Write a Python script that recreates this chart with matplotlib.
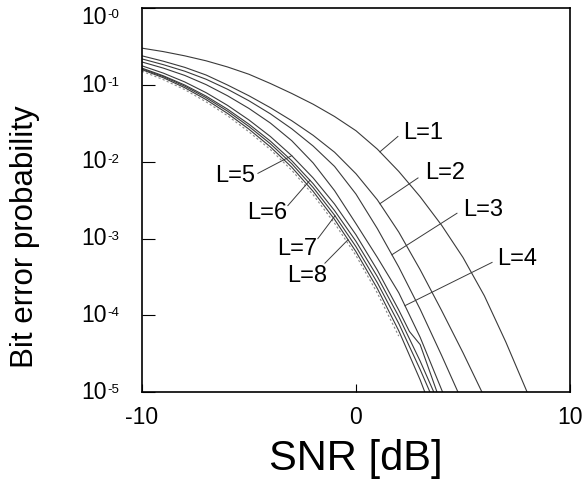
import numpy as np
import matplotlib
matplotlib.use("Agg")
import matplotlib.pyplot as plt
import matplotlib.transforms as mtransforms

plt.rcParams['font.family'] = ['Liberation Sans', 'DejaVu Sans']

# SNR [dB] and log10(bit error probability), one pair per L
snr_L1 = [-10, -9, -8, -7, -6, -5, -4, -3, -2, -1, 0, 1, 2, 3, 4, 5, 6, 7, 8]
log_L1 = [-0.52, -0.565, -0.62, -0.685, -0.765, -0.86, -0.98, -1.11, -1.25, -1.41,
          -1.595, -1.835, -2.125, -2.455, -2.825, -3.245, -3.745, -4.345, -5.0]

snr_L2 = [-10, -9, -8, -7, -6, -5, -4, -3, -2, -1, 0, 1, 2, 3, 4, 5, 5.89]
log_L2 = [-0.62, -0.69, -0.77, -0.87, -1.0, -1.14, -1.295, -1.465, -1.655, -1.875,
          -2.155, -2.495, -2.915, -3.405, -3.935, -4.485, -5.0]

snr_L3 = [-10, -9, -8, -7, -6, -5, -4, -3, -2, -1, 0, 1, 2, 3, 4, 4.77]
log_L3 = [-0.66, -0.735, -0.82, -0.925, -1.055, -1.205, -1.375, -1.57, -1.795, -2.06,
          -2.42, -2.87, -3.37, -3.92, -4.52, -5.0]

snr_L4 = [-10, -9, -8, -7, -6, -5, -4, -3, -2, -1, 0, 1, 2, 3, 4.05]
log_L4 = [-0.70, -0.78, -0.875, -0.995, -1.14, -1.305, -1.495, -1.725, -2.015, -2.375,
          -2.805, -3.245, -3.705, -4.285, -5.0]

snr_L5 = [-10, -9, -8, -7, -6, -5, -4, -3, -2, -1, 0, 1, 2, 2.5, 3.0, 3.79]
log_L5 = [-0.75, -0.845, -0.96, -1.10, -1.265, -1.455, -1.67, -1.92, -2.21, -2.55,
          -2.95, -3.41, -3.93, -4.21, -4.38, -5.0]

snr_L6 = [-10, -9, -8, -7, -6, -5, -4, -3, -2, -1, 0, 1, 2, 3, 3.64]
log_L6 = [-0.78, -0.88, -1.0, -1.145, -1.315, -1.51, -1.73, -1.985, -2.285, -2.635,
          -3.035, -3.495, -4.015, -4.595, -5.0]

snr_L7 = [-10, -9, -8, -7, -6, -5, -4, -3, -2, -1, 0, 1, 2, 3, 3.46]
log_L7 = [-0.79, -0.89, -1.015, -1.165, -1.34, -1.54, -1.765, -2.025, -2.335, -2.695,
          -3.105, -3.575, -4.105, -4.705, -5.0]

snr_L8 = [-10, -9, -8, -7, -6, -5, -4, -3, -2, -1, 0, 1, 2, 3, 3.22]
log_L8 = [-0.80, -0.905, -1.035, -1.19, -1.37, -1.575, -1.805, -2.07, -2.385, -2.75,
          -3.17, -3.65, -4.2, -4.84, -5.0]

# faint dashed trace running just under the L=5..8 bundle
snr_dash = [-10, -9, -8, -7, -6, -5, -4, -3, -2, -1, 0, 1, 2]
log_dash = [-0.82, -0.93, -1.06, -1.22, -1.40, -1.61, -1.84, -2.11, -2.43, -2.80,
            -3.22, -3.71, -4.27]

curve_names = ['L=1', 'L=2', 'L=3', 'L=4', 'L=5', 'L=6', 'L=7', 'L=8']
curve_snr = [snr_L1, snr_L2, snr_L3, snr_L4, snr_L5, snr_L6, snr_L7, snr_L8]
curve_log = [log_L1, log_L2, log_L3, log_L4, log_L5, log_L6, log_L7, log_L8]

# where each label's leader touches its curve (SNR)
leader_snr = [1.12, 1.12, 1.68, 2.29, -3.0, -2.15, -0.98, -0.37]
# leader far end and label centre (SNR, log10 BER)
leader_end = [(1.96, -1.67), (2.90, -2.21), (4.72, -2.67), (6.36, -3.31),
              (-4.58, -2.15), (-3.18, -2.57), (-1.78, -3.0), (-1.45, -3.32)]
label_pos = [(3.13, -1.63), (4.16, -2.14), (5.93, -2.63), (7.52, -3.26),
             (-5.65, -2.19), (-4.16, -2.67), (-2.76, -3.13), (-2.29, -3.49)]

y_ticks = [1, 1e-1, 1e-2, 1e-3, 1e-4, 1e-5]
y_exps = ['-0', '-1', '-2', '-3', '-4', '-5']
x_ticks = [-10, 0, 10]
x_tick_labels = ['-10', '0', '10']

fig = plt.figure(figsize=(5.84, 4.83), dpi=100)
ax = fig.add_axes([0.243, 0.188, 0.733, 0.795])

line_col = '#3a3a3a'
for snr, lg in zip(curve_snr, curve_log):
    ax.plot(snr, 10 ** np.array(lg), color=line_col, lw=0.8)
ax.plot(snr_dash, 10 ** np.array(log_dash), color='#888888', lw=0.8,
        ls=(0, (2, 2)))

# labels with leader lines
for name, snr, lg, s0, end, pos in zip(curve_names, curve_snr, curve_log,
                                        leader_snr, leader_end, label_pos):
    y0 = np.interp(s0, snr, lg)
    ax.plot([s0, end[0]], [10 ** y0, 10 ** end[1]], color=line_col, lw=0.7)
    ax.text(pos[0], 10 ** pos[1], name, fontsize=17, ha='center', va='center')

ax.set_yscale('log')
ax.set_xlim(-10, 10)
ax.set_ylim(1e-5, 1)
ax.set_yticks(y_ticks)
ax.set_yticklabels([])
ax.set_xticks(x_ticks)
ax.set_xticklabels(x_tick_labels)
ax.minorticks_off()
ax.tick_params(axis='y', direction='in', length=9, width=0.8)
ax.tick_params(axis='x', direction='in', length=6, width=0.8, labelsize=16.5, pad=10)
for sp in ax.spines.values():
    sp.set_linewidth(1.2)

# y tick labels: "10" with a small superscript exponent
trans = mtransforms.blended_transform_factory(ax.transAxes, ax.transData)
for i, (yt, ex) in enumerate(zip(y_ticks, y_exps)):
    shift = -6.5 if i == 0 else 0
    t_base = mtransforms.offset_copy(trans, fig=fig, x=-25, y=shift, units='points')
    ax.text(0, yt, '10', fontsize=16.5, ha='right', va='center',
            transform=t_base, clip_on=False)
    t_sup = mtransforms.offset_copy(trans, fig=fig, x=-25, y=shift - 0.7, units='points')
    ax.text(0, yt, ex, fontsize=9.5, ha='left', va='baseline',
            transform=t_sup, clip_on=False)

ax.set_xlabel('SNR [dB]', fontsize=30, labelpad=7)
fig.text(25 / 584, 1 - 237 / 483, 'Bit error probability', rotation=90,
         fontsize=22.5, ha='center', va='center')

fig.savefig('out.png', dpi=100)
